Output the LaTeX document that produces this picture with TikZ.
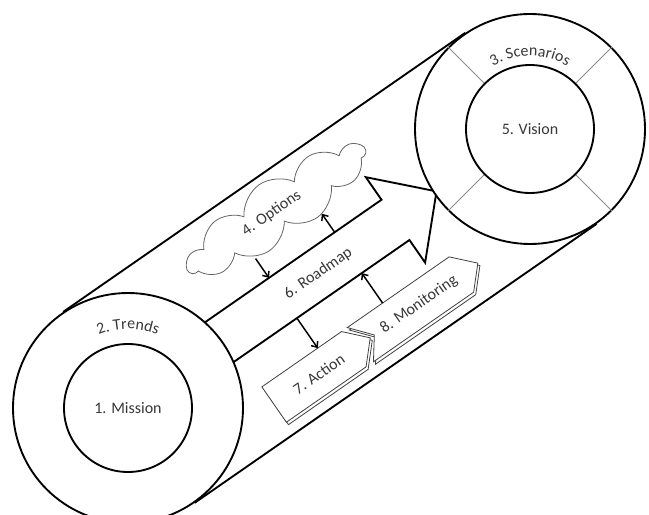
\documentclass[tikz,border=0pt]{standalone}
\usepackage{fontspec}
\setmainfont{Carlito}
\usetikzlibrary{arrows.meta,shapes.symbols,decorations.text}
\definecolor{txtgray}{HTML}{383838}
\newcommand\ringfont{\fontsize{12}{14}\selectfont}

\begin{document}
\begin{tikzpicture}[
  x=0.75pt, y=0.75pt,
  every node/.style={font=\ringfont, text=txtgray},
  ring/.style={circle, draw, fill=white, line width=1.4pt, inner sep=0pt, minimum size=172.5pt},
  core/.style={circle, draw, fill=white, line width=1.4pt, inner sep=0pt, minimum size=96pt},
  tube/.style={line width=1.4pt},
  divider/.style={draw=black!45, line width=0.6pt},
  roadmapline/.style={draw, fill=white, line width=1.4pt, line join=miter},
  optcloud/.style={cloud, cloud puffs=11, cloud puff arc=120, cloud ignores aspect,
    draw=black!60, line width=0.6pt, fill=white, inner sep=0pt,
    minimum width=160pt, minimum height=46pt},
  boxline/.style={draw=black!75, line width=0.6pt, fill=white, line join=miter},
  boxshadow/.style={boxline, shift={(0.3,-3.2)}},
  link/.style={-{Straight Barb[length=3.5pt,width=6pt]}, line width=1.1pt},
  ringtext/.style={decorate, decoration={text along path, text align=center,
    text color=txtgray, text={|\ringfont|#1}}}
]
\useasboundingbox (0,0) rectangle (649,514);

% along the tube
\begin{scope}[shift={(128,106)}, rotate=34.77, transform shape]
  \draw[roadmapline] (92,26.5) -- (327,26.5) -- (327,54) -- (377,2)
    -- (327,-50) -- (327,-22.5) -- (92,-22.5) -- cycle;
  \node (roadmap) at (233,2) {6. Roadmap};
  \node[optcloud] (options) at (235,78) {};
  \node (optionstext) at (229,78) {4. Options};
  % action and monitoring
  \draw[boxshadow] (122,-59) -- (219,-59) -- (239,-80.5) -- (219,-102) -- (122,-102) -- cycle;
  \draw[boxline] (122,-59) -- (219,-59) -- (239,-80.5) -- (219,-102) -- (122,-102) -- cycle;
  \draw[boxshadow] (226,-59) -- (350,-59) -- (370,-80.5) -- (350,-102) -- (228,-102)
    -- (244,-80.5) -- cycle;
  \draw[boxline] (226,-59) -- (350,-59) -- (370,-80.5) -- (350,-102) -- (228,-102)
    -- (244,-80.5) -- cycle;
  \node (action) at (176,-81) {7. Action};
  \node (monitoring) at (298,-81) {8. Monitoring};
  \coordinate (options-a) at (190,50);
  \coordinate (roadmap-a) at (190,26.5);
  \coordinate (roadmap-b) at (270,26.5);
  \coordinate (options-b) at (270,49);
  \coordinate (monitoring-a) at (269,-59);
  \coordinate (roadmap-c) at (269,-22.5);
  \coordinate (roadmap-d) at (190,-22.5);
  \coordinate (action-a) at (190,-59);
\end{scope}

\draw[link] (options-a) -- (roadmap-a);
\draw[link] (roadmap-b) -- (options-b);
\draw[link] (monitoring-a) -- (roadmap-c);
\draw[link] (roadmap-d) -- (action-a);

\node[ring] (trends) at (128,106) {};
\node[core] (mission) at (trends) {1. Mission};
\node[ring] (scenarios) at (530,385) {};
\node[core] (vision) at (scenarios) {5. Vision};

\draw[tube] (trends.124.77) -- (scenarios.124.77);
\draw[tube] (trends.-55.23) -- (scenarios.-55.23);

\foreach \a in {45,135,225,315}
  \draw[divider] (vision.\a) -- (scenarios.\a);

\path[ringtext={2. Trends}] (trends.center) ++(150:79) arc (150:30:79);
\path[ringtext={3. Scenarios}] (scenarios.center) ++(150:73) arc (150:30:73);
\end{tikzpicture}
\end{document}
